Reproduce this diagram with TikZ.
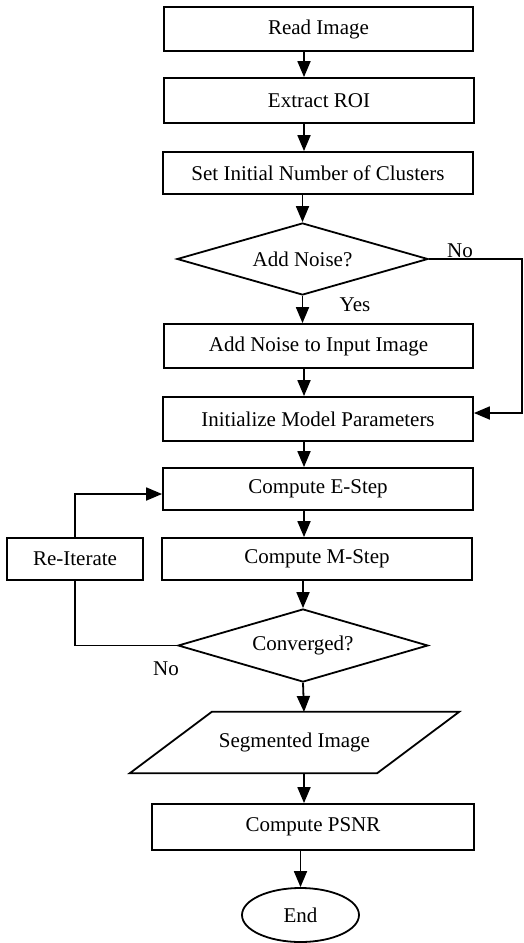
\documentclass[tikz,border=0pt]{standalone}
\usepackage{fontspec}
\setmainfont{Liberation Serif}
\usetikzlibrary{shapes.geometric,arrows.meta}
\begin{document}
\begin{tikzpicture}[x=1pt,y=-1pt,
  every node/.style={font=\fontsize{21}{24}\selectfont},
  procbox/.style={draw,line width=1.8pt,rectangle,inner sep=0pt},
  decbox/.style={draw,line width=1.8pt,diamond,aspect=3.5,inner sep=0pt},
  endbox/.style={draw,line width=1.8pt,ellipse,inner sep=0pt},
  lbl/.style={inner sep=0pt},
  arr/.style={line width=1.8pt,-{Triangle[length=16pt,width=13pt]}},
  ln/.style={line width=1.8pt}]
\useasboundingbox (0,0) rectangle (524,943);
\fill[white] (0,0) rectangle (524,943);
\coordinate (col) at (304,0);
\coordinate (ncol) at (522,0);
\node[procbox,minimum width=309pt,minimum height=44pt] (read) at (318.5,29) {Read Image};
\node[procbox,minimum width=310pt,minimum height=45pt] (roi) at (319,100.5) {Extract ROI};
\node[procbox,minimum width=310pt,minimum height=42pt] (set) at (318,173) {Set Initial Number of Clusters};
\node[decbox,minimum width=251pt,minimum height=72pt] (d1) at (302.5,259) {Add Noise?};
\node[procbox,minimum width=309pt,minimum height=44pt] (addn) at (318.5,346) {Add Noise to Input Image};
\node[procbox,minimum width=310pt,minimum height=44pt] (init) at (318,419) {Initialize Model Parameters};
\node[procbox,minimum width=310pt,minimum height=42pt] (estep) at (318,489) {Compute E-Step};
\node[procbox,minimum width=310pt,minimum height=42pt] (mstep) at (317,559) {Compute M-Step};
\node[procbox,minimum width=136pt,minimum height=42pt] (reit) at (75,559) {Re-Iterate};
\node[decbox,minimum width=250pt,minimum height=73pt] (d2) at (303,645.5) {Converged?};
\node[inner sep=0pt,minimum width=247pt,minimum height=61pt] (seg) at (294.5,742.5) {Segmented Image};
\draw[line width=1.8pt,line join=miter] ([xshift=41pt]seg.north west) -- ([xshift=41pt]seg.north east)
  -- ([xshift=-41pt]seg.south east) -- ([xshift=-41pt]seg.south west) -- cycle;
\node[procbox,minimum width=322pt,minimum height=46pt] (psnr) at (313,827) {Compute PSNR};
\node[endbox,minimum width=117pt,minimum height=54pt] (end) at (300.5,915) {End};
\node[lbl] (lno1) at (460,251) {No};
\node[lbl] (lyes) at (355,305) {Yes};
\node[lbl] (lno2) at (166,669) {No};
\coordinate (segtop) at (304,712);
\coordinate (segbot) at (304,773);
% connectors
\draw[arr] (read.south -| col) -- (roi.north -| col);
\draw[arr] (roi.south -| col) -- (set.north -| col);
\draw[arr] (set.south -| d1.north) -- (d1.north);
\draw[arr] (d1.south) -- (addn.north -| d1.south);
\draw[arr] (addn.south -| col) -- (init.north -| col);
\draw[arr] (d1.east) -- (d1.east -| ncol) -- ([yshift=6pt]init.east -| ncol) -- ([yshift=6pt]init.east);
\draw[arr] (init.south -| col) -- (estep.north -| col);
\draw[arr] (estep.south -| col) -- (mstep.north -| col);
\draw[arr] (mstep.south -| d2.north) -- (d2.north);
\draw[arr] (d2.south) -- (segtop);
\draw[arr] (segbot) -- (psnr.north -| segbot);
\draw[arr] (psnr.south -| end.north) -- (end.north);
\draw[ln] (d2.west) -| (reit.south);
\draw[arr] (reit.north) |- ([yshift=-5pt]estep.west);
\end{tikzpicture}
\end{document}
